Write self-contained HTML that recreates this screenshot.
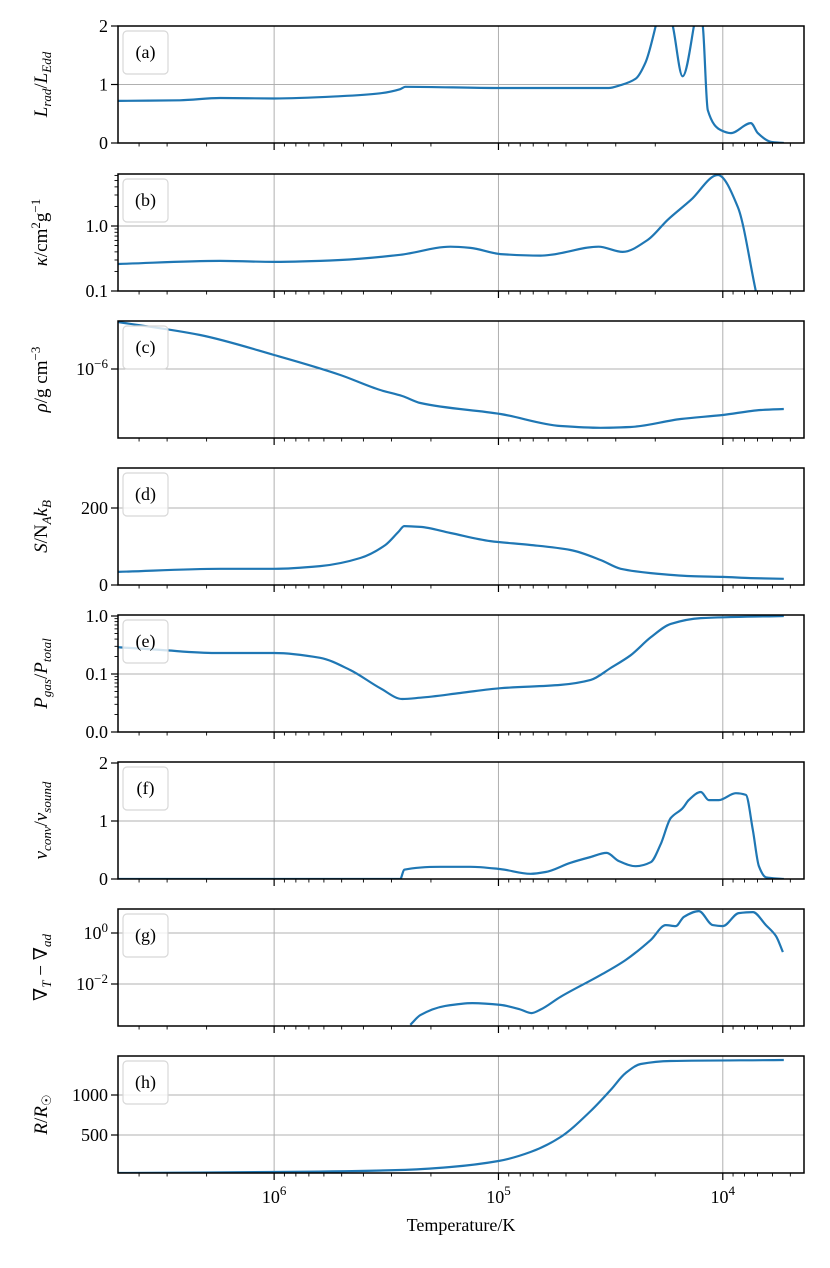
<!DOCTYPE html>
<html><head><meta charset="utf-8"><style>
body{margin:0;background:#fff}
svg text{font-family:"Liberation Serif","DejaVu Serif",serif;fill:#000}
</style></head><body>
<svg id="fig" width="830" height="1263" viewBox="0 0 830 1263" xmlns="http://www.w3.org/2000/svg"></svg>
<script>
// ---- data (log10 temperature vs quantities) ----
const aT=[6.696,6.42,6.241,6.0,5.705,5.527,5.438,5.415,4.991,4.723,4.509,4.455,4.388,4.344,4.299,4.263,4.223,4.179,4.129,4.112,4.089,4.067,4.009,3.964,3.875,3.844,3.786,3.728];
const aV=[0.72,0.73,0.77,0.76,0.80,0.85,0.92,0.96,0.94,0.94,0.94,0.99,1.1,1.38,2.0,2.6,2.0,1.14,2.0,2.5,2.0,0.56,0.22,0.17,0.34,0.17,0.02,0.0];
const bT=[6.696,6.241,6.0,5.705,5.438,5.214,5.125,4.991,4.812,4.768,4.554,4.446,4.335,4.246,4.143,4.022,3.933,3.853];
const bV=[0.26,0.29,0.28,0.30,0.36,0.48,0.46,0.37,0.35,0.36,0.48,0.40,0.61,1.24,2.5,6.1,1.96,0.1];
const cT=[6.696,6.33,6.0,5.705,5.527,5.429,5.348,4.991,4.723,4.545,4.411,4.1875,4.0,3.83,3.728];
const cLogRho=[-5.608,-5.717,-5.883,-6.05,-6.175,-6.225,-6.283,-6.375,-6.475,-6.49,-6.483,-6.417,-6.383,-6.342,-6.333];
const dT=[6.696,6.241,6.0,5.795,5.616,5.504,5.446,5.42,5.348,5.214,5.036,4.857,4.679,4.545,4.455,4.321,4.143,4.0,3.875,3.728];
const dV=[34,42,42,49,70,104,138,153,151,135,114,104,91,65,42,31,23,21,18,16];
const eT=[6.696,6.509,6.263,6.0,5.795,5.661,5.527,5.429,5.348,5.17,4.991,4.723,4.589,4.5,4.411,4.321,4.232,4.098,3.728];
const eV=[0.29,0.26,0.23,0.23,0.19,0.117,0.057,0.037,0.039,0.047,0.057,0.065,0.079,0.127,0.21,0.43,0.73,0.92,1.0];
const fT=[6.696,5.438,5.42,5.259,5.125,4.991,4.857,4.79,4.679,4.589,4.518,4.464,4.388,4.321,4.277,4.232,4.179,4.152,4.098,4.0625,4.018,3.942,3.897,3.866,3.839,3.808,3.728];
const fV=[0,0,0.16,0.21,0.21,0.17,0.09,0.12,0.28,0.38,0.45,0.31,0.22,0.29,0.60,1.05,1.22,1.36,1.5,1.36,1.36,1.48,1.45,0.84,0.22,0.03,0];
const gT=[5.393,5.348,5.237,5.116,4.991,4.902,4.853,4.812,4.723,4.545,4.433,4.321,4.254,4.21,4.174,4.107,4.045,4.0,3.929,3.866,3.808,3.763,3.732];
const gLog=[-3.6,-3.22,-2.86,-2.75,-2.82,-3.0,-3.14,-3.0,-2.5,-1.65,-1.06,-0.27,0.31,0.27,0.63,0.86,0.31,0.27,0.78,0.82,0.31,-0.12,-0.75];
const hT=[6.696,6.0,5.438,5.214,5.0,4.857,4.723,4.589,4.5,4.433,4.366,4.232,3.728];
const hV=[25,37,62,100,175,287,475,800,1062,1275,1387,1425,1437];
const xTickExp=[6,5,4];
const panelLetters=["a","b","c","d","e","f","g","h"];

const svg=document.getElementById('fig');
const NS='http://www.w3.org/2000/svg';
const L=118,R=804,TMAX=6.696,TMIN=3.638;
const xs=t=>L+(TMAX-t)/(TMAX-TMIN)*(R-L);
function mk(tag,attrs,parent){const e=document.createElementNS(NS,tag);for(const k in attrs)e.setAttribute(k,attrs[k]);(parent||svg).appendChild(e);return e;}
// monotone cubic (Fritsch-Carlson) – no loops/overshoot
function smooth(p){const n=p.length;const dx=[],s=[];
 for(let i=0;i<n-1;i++){dx.push(p[i+1][0]-p[i][0]);s.push((p[i+1][1]-p[i][1])/dx[i]);}
 const m=new Array(n);m[0]=s[0];m[n-1]=s[n-2];
 for(let i=1;i<n-1;i++){if(s[i-1]*s[i]<=0)m[i]=0;else{const w1=2*dx[i]+dx[i-1],w2=dx[i]+2*dx[i-1];m[i]=(w1+w2)/(w1/s[i-1]+w2/s[i]);}}
 let d='M'+p[0][0].toFixed(1)+','+p[0][1].toFixed(1);
 for(let i=0;i<n-1;i++){const h=dx[i]/3;
  d+=' C'+(p[i][0]+h).toFixed(1)+','+(p[i][1]+m[i]*h).toFixed(1)+' '+(p[i+1][0]-h).toFixed(1)+','+(p[i+1][1]-m[i+1]*h).toFixed(1)+' '+p[i+1][0].toFixed(1)+','+p[i+1][1].toFixed(1);}
 return d;}

const panels=[
 {top:26,ys:v=>143-v*58.5,ticks:[[0,'0'],[1,'1'],[2,'2']],T:aT,V:aV,label:'<tspan font-style="italic">L</tspan><tspan font-style="italic" font-size="13" dy="4">rad</tspan><tspan dy="-4">/</tspan><tspan font-style="italic">L</tspan><tspan font-style="italic" font-size="13" dy="4">Edd</tspan>'},
 {top:174,ys:v=>226-Math.log10(v)*65,ticks:[[0.1,'0.1'],[1,'1.0']],minor:{decs:[-1,0]},T:bT,V:bV,label:'<tspan font-style="italic">κ</tspan>/cm<tspan font-size="13" dy="-7">2</tspan><tspan dy="7">g</tspan><tspan font-size="13" dy="-7">−1</tspan>'},
 {top:321,ys:v=>369-(v+6)*120,ticks:[[-6,'10−6']],T:cT,V:cLogRho,sup:true,label:'<tspan font-style="italic">ρ</tspan>/g cm<tspan font-size="13" dy="-7">−3</tspan>'},
 {top:468,ys:v=>585-v*0.385,ticks:[[0,'0'],[200,'200']],T:dT,V:dV,label:'<tspan font-style="italic">S</tspan>/N<tspan font-style="italic" font-size="13" dy="4">A</tspan><tspan font-style="italic" dy="-4">k</tspan><tspan font-style="italic" font-size="13" dy="4">B</tspan>'},
 {top:615,ys:v=>616-Math.log10(v)*58,ticks:[[0.01,'0.0'],[0.1,'0.1'],[1,'1.0']],minor:{decs:[-2,-1,0]},T:eT,V:eV,label:'<tspan font-style="italic">P</tspan><tspan font-style="italic" font-size="13" dy="4">gas</tspan><tspan dy="-4">/</tspan><tspan font-style="italic">P</tspan><tspan font-style="italic" font-size="13" dy="4">total</tspan>'},
 {top:762,ys:v=>879-v*58,ticks:[[0,'0'],[1,'1'],[2,'2']],T:fT,V:fV,label:'<tspan font-style="italic">v</tspan><tspan font-style="italic" font-size="13" dy="4">conv</tspan><tspan dy="-4">/</tspan><tspan font-style="italic">v</tspan><tspan font-style="italic" font-size="13" dy="4">sound</tspan>'},
 {top:909,ys:v=>933-v*25.5,ticks:[[0,'100'],[-2,'10−2']],T:gT,V:gLog,sup:true,label:'∇<tspan font-style="italic" font-size="13" dy="4">T</tspan><tspan dy="-4"> − ∇</tspan><tspan font-style="italic" font-size="13" dy="4">ad</tspan>'},
 {top:1056,ys:v=>1175-v*0.08,ticks:[[500,'500'],[1000,'1000']],T:hT,V:hV,label:'<tspan font-style="italic">R</tspan>/<tspan font-style="italic">R</tspan><tspan font-size="13" dy="4">☉</tspan>'}
];
const H=117;
panels.forEach((p,i)=>{
 const g=mk('g',{});  
 const top=p.top,bot=top+H;
 const cid='clip'+i; const cp=mk('clipPath',{id:cid},g); mk('rect',{x:L,y:top,width:R-L,height:H},cp);
 xTickExp.forEach(e=>{const x=xs(e);mk('line',{x1:x,x2:x,y1:top,y2:bot,stroke:'#b0b0b0','stroke-width':1},g);});
 p.ticks.forEach(t=>{const y=p.ys(t[0]);if(y>top+1&&y<bot-1)mk('line',{x1:L,x2:R,y1:y,y2:y,stroke:'#b0b0b0','stroke-width':1},g);});
 const pts=p.T.map((t,k)=>[xs(t),p.ys(p.V[k])]);
 const path=mk('path',{d:smooth(pts),fill:'none',stroke:'#1f77b4','stroke-width':2.2,'clip-path':'url(#'+cid+')'},g);
 
 
 mk('rect',{x:L,y:top,width:R-L,height:H,fill:'none',stroke:'#000','stroke-width':1.5},g);
 for(let e=3;e<=6;e++){for(let m=1;m<=9;m++){const t=e+Math.log10(m);if(t<TMIN||t>TMAX)continue;const x=xs(t);
  mk('line',{x1:x,x2:x,y1:bot,y2:bot+(m==1?7:3.5),stroke:'#000','stroke-width':m==1?1.2:0.9},g);}}
 p.ticks.forEach(t=>{const y=p.ys(t[0]);mk('line',{x1:L,x2:L-7,y1:y,y2:y,stroke:'#000','stroke-width':1.2},g);
  const tx=mk('text',{x:L-10,y:y+6,'text-anchor':'end','font-size':18},g);
  if(p.sup){tx.innerHTML='10<tspan font-size="13" dy="-7">'+t[1].slice(2)+'</tspan>';}else tx.textContent=t[1];
  });
 if(p.minor){p.minor.decs.forEach(d=>{for(let m=2;m<=9;m++){const y=p.ys(m*Math.pow(10,d));if(y<top-0.5)continue;mk('line',{x1:L,x2:L-3.5,y1:y,y2:y,stroke:'#000','stroke-width':0.9},g);}});}
 const cy=top+H/2;
 const yl=mk('text',{x:0,y:0,'text-anchor':'middle','font-size':19,transform:'translate(47,'+cy+') rotate(-90)'},g);
 yl.innerHTML=p.label;
 
 const lb=mk('g',{},g);
 mk('rect',{x:123,y:top+5,width:45,height:43,rx:4,fill:'#fff','fill-opacity':0.8,stroke:'#d8d8d8','stroke-width':1.2},lb);
 const lt=mk('text',{x:145.5,y:top+32,'text-anchor':'middle','font-size':18},lb);lt.textContent='('+panelLetters[i]+')';
});
xTickExp.forEach(e=>{const t=mk('text',{x:xs(e),y:1203,'text-anchor':'middle','font-size':18});t.innerHTML='10<tspan font-size="13" dy="-8">'+e+'</tspan>';
 });
const xt=mk('text',{x:461,y:1231,'text-anchor':'middle','font-size':18});xt.textContent='Temperature/K';

</script>
</body></html>
